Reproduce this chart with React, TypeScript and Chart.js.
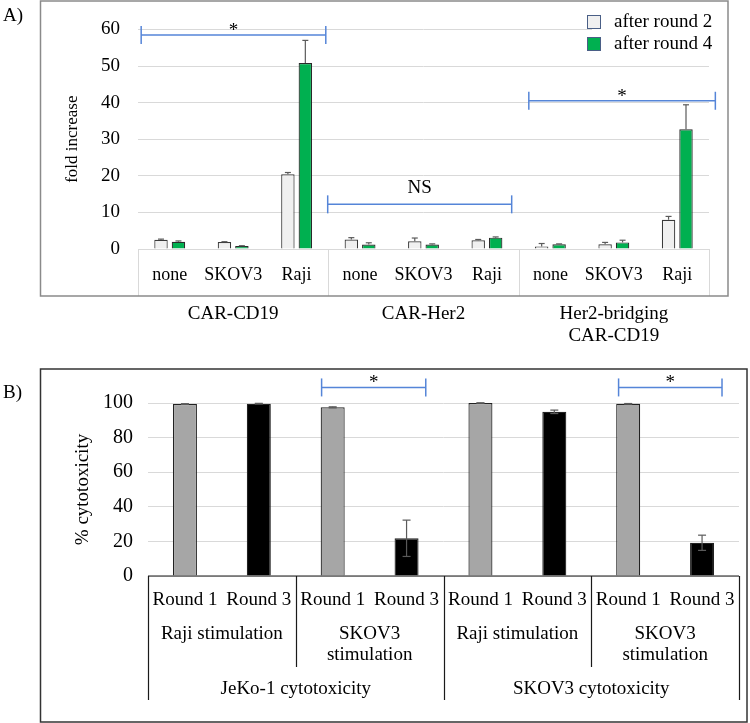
import React, { useEffect, useRef } from "react";
import { Chart, registerables } from "chart.js";
Chart.register(...registerables);

const FONT = "'Liberation Serif', 'Times New Roman', serif";

// ---------- Panel A data ----------
const aGroups = ["CAR-CD19", "CAR-Her2", "Her2-bridging\nCAR-CD19"];
const aTargets = ["none", "SKOV3", "Raji"];
const aSeriesNames = ["after round 2", "after round 4"];
const round2 = [2.5, 1.9, 20.4, 2.6, 2.1, 2.4, 0.7, 1.3, 8.0];
const round2Err = [0.2, 0.1, 0.5, 0.5, 0.9, 0.2, 0.8, 0.5, 0.9];
const round4 = [2.0, 0.8, 50.8, 1.2, 1.2, 3.1, 1.3, 1.8, 32.7];
const round4Err = [0.2, 0.1, 6.2, 0.5, 0.2, 0.2, 0.1, 0.6, 6.7];
const aTicks = [0, 10, 20, 30, 40, 50, 60];
// significance brackets: [fromCategory, toCategory, yValue, label]
const aBrackets: [number, number, number, string][] = [
  [-0.45, 2.46, 58.5, "*"],
  [2.49, 5.39, 12.2, "NS"],
  [5.66, 8.6, 40.5, "*"],
];

// ---------- Panel B data ----------
const bCytotox = ["JeKo-1 cytotoxicity", "SKOV3 cytotoxicity"];
const bStim = ["Raji stimulation", "SKOV3\nstimulation"];
const bRounds = ["Round 1", "Round 3"];
const bValues = [99.4, 99.6, 97.5, 21.8, 100, 94.9, 99.5, 19.2];
const bErr = [0.2, 0.2, 0.3, 10.5, 0.1, 1.0, 0.2, 4.4];
const bTicks = [0, 20, 40, 60, 80, 100];
const bBrackets: [number, number, number, string][] = [
  [1.85, 3.26, 109, "*"],
  [5.87, 7.27, 109, "*"],
];

const aLabels: string[] = [];
aGroups.forEach(() => aTargets.forEach((t) => aLabels.push(t)));
const bLabels: string[] = [];
bCytotox.forEach(() => bStim.forEach(() => bRounds.forEach((r) => bLabels.push(r))));

function txt(ctx: CanvasRenderingContext2D, s: string, x: number, y: number, size: number, align: CanvasTextAlign = "center", baseline: CanvasTextBaseline = "middle", color = "#000") {
  ctx.font = `${size}px ${FONT}`;
  ctx.fillStyle = color;
  ctx.textAlign = align;
  ctx.textBaseline = baseline;
  ctx.fillText(s, x, y);
}

function line(ctx: CanvasRenderingContext2D, x1: number, y1: number, x2: number, y2: number) {
  ctx.beginPath();
  ctx.moveTo(x1, y1);
  ctx.lineTo(x2, y2);
  ctx.stroke();
}

function drawBrackets(ctx: CanvasRenderingContext2D, chart: any, list: [number, number, number, string][]) {
  const xs = chart.scales.x, ys = chart.scales.y;
  const step = xs.getPixelForValue(1) - xs.getPixelForValue(0);
  const x0 = xs.getPixelForValue(0);
  ctx.strokeStyle = "#5585d8";
  ctx.lineWidth = 1.5;
  list.forEach(([a, b, v, lab]) => {
    const xa = x0 + a * step, xb = x0 + b * step, yy = ys.getPixelForValue(v);
    line(ctx, xa, yy, xb, yy);
    line(ctx, xa, yy - 9, xa, yy + 9);
    line(ctx, xb, yy - 9, xb, yy + 9);
    if (lab === "*") txt(ctx, lab, (xa + xb) / 2, yy + 1, 19, "center", "alphabetic");
    else txt(ctx, lab, (xa + xb) / 2, yy - 11, 19, "center", "alphabetic");
  });
}

function drawErrors(ctx: CanvasRenderingContext2D, chart: any, dsIndex: number, errs: number[], both: boolean, cap: number) {
  const ys = chart.scales.y;
  const meta = chart.getDatasetMeta(dsIndex);
  const vals = chart.data.datasets[dsIndex].data as number[];
  ctx.strokeStyle = "#5a5a5a";
  ctx.lineWidth = 1.2;
  meta.data.forEach((bar: any, i: number) => {
    const v = vals[i], e = errs[i];
    const top = ys.getPixelForValue(v + e);
    const bot = both ? ys.getPixelForValue(v - e) : ys.getPixelForValue(v);
    line(ctx, bar.x, top, bar.x, bot);
    line(ctx, bar.x - cap / 2, top, bar.x + cap / 2, top);
    if (both) line(ctx, bar.x - cap / 2, bot, bar.x + cap / 2, bot);
  });
}

const panelAPlugin = {
  id: "panelA",
  afterDraw(chart: any) {
    const { ctx } = chart;
    const xs = chart.scales.x, ys = chart.scales.y;
    const step = xs.getPixelForValue(1) - xs.getPixelForValue(0);
    const edge = (i: number) => xs.getPixelForValue(i) - step / 2;
    const y0 = ys.getPixelForValue(0);
    const boxBottom = 296;
    ctx.save();
    // error bars
    drawErrors(ctx, chart, 0, round2Err, false, 6);
    drawErrors(ctx, chart, 1, round4Err, false, 6);
    // category table
    ctx.strokeStyle = "#d9d9d9";
    ctx.lineWidth = 1;
    for (let g = 0; g <= aGroups.length; g++) {
      const xx = Math.round(edge(g * aTargets.length)) + 0.5;
      line(ctx, xx, y0, xx, boxBottom);
    }
    aLabels.forEach((l, i) => txt(ctx, l, xs.getPixelForValue(i), y0 + 26, 18));
    aGroups.forEach((g, gi) => {
      const cx = (edge(gi * 3) + edge(gi * 3 + 3)) / 2;
      g.split("\n").forEach((ln, li) => txt(ctx, ln, cx, 314 + li * 22, 19));
    });
    // frame
    ctx.strokeStyle = "#8a8a8a";
    ctx.lineWidth = 1.5;
    ctx.strokeRect(40.5, 1, 687.5, boxBottom - 1);
    txt(ctx, "A)", 3, 16, 19, "left");
    // brackets
    drawBrackets(ctx, chart, aBrackets);
    // legend (white box over gridlines)
    ctx.fillStyle = "#fff";
    ctx.fillRect(592, 4, 120, 53);
    chart.data.datasets.forEach((ds: any, i: number) => {
      const ly = 22 + i * 22;
      ctx.fillStyle = ds.backgroundColor;
      ctx.fillRect(587, ly - 7, 14, 14);
      ctx.strokeStyle = "#4a5f86";
      ctx.lineWidth = 1;
      ctx.strokeRect(587.5, ly - 6.5, 13, 13);
      txt(ctx, ds.label, 614, ly, 19, "left");
    });
    ctx.restore();
  },
};

const panelBPlugin = {
  id: "panelB",
  afterDraw(chart: any) {
    const { ctx } = chart;
    const xs = chart.scales.x, ys = chart.scales.y;
    const step = xs.getPixelForValue(1) - xs.getPixelForValue(0);
    const edge = (i: number) => xs.getPixelForValue(i) - step / 2;
    const y0 = ys.getPixelForValue(0);
    ctx.save();
    drawErrors(ctx, chart, 0, bErr, true, 8);
    // table
    ctx.strokeStyle = "#1a1a1a";
    ctx.lineWidth = 1.2;
    line(ctx, edge(0), y0, edge(bLabels.length), y0);
    const nStim = bRounds.length;
    const nCyt = bStim.length * nStim;
    for (let c = 0; c <= bCytotox.length; c++) {
      const xx = Math.round(edge(c * nCyt)) + 0.5;
      line(ctx, xx, y0, xx, 340);
    }
    for (let s = 0; s < bCytotox.length * bStim.length; s++) {
      if (s % bStim.length === 0) continue;
      const xx = Math.round(edge(s * nStim)) + 0.5;
      line(ctx, xx, y0, xx, 307);
    }
    bLabels.forEach((l, i) => txt(ctx, l, xs.getPixelForValue(i), y0 + 24, 19));
    bCytotox.forEach((c, ci) => {
      bStim.forEach((s, si) => {
        const k = ci * bStim.length + si;
        const cx = (edge(k * nStim) + edge(k * nStim + nStim)) / 2;
        s.split("\n").forEach((ln, li) => txt(ctx, ln, cx, y0 + 58 + li * 21, 19));
      });
      const cx = (edge(ci * nCyt) + edge(ci * nCyt + nCyt)) / 2;
      txt(ctx, c, cx, y0 + 113, 19);
    });
    // frame
    ctx.strokeStyle = "#333";
    ctx.lineWidth = 1.5;
    ctx.strokeRect(40.5, 9, 706.5, 353);
    txt(ctx, "B)", 3, 33, 19, "left");
    drawBrackets(ctx, chart, bBrackets);
    ctx.restore();
  },
};

export default function App() {
  const refA = useRef<HTMLCanvasElement>(null);
  const refB = useRef<HTMLCanvasElement>(null);

  useEffect(() => {
    const chartA = new Chart(refA.current!, {
      type: "bar",
      data: {
        labels: aLabels,
        datasets: [
          { label: aSeriesNames[0], data: round2, backgroundColor: "#f0f0f0", borderColor: "#3a3a3a", borderWidth: 1.2, categoryPercentage: 0.55, barPercentage: 0.77 },
          { label: aSeriesNames[1], data: round4, backgroundColor: "#00b050", borderColor: "#2a2a2a", borderWidth: 1.2, categoryPercentage: 0.55, barPercentage: 0.77 },
        ],
      },
      options: {
        responsive: false,
        animation: false,
        layout: { padding: { left: 40, right: 41, top: 12, bottom: 111 } },
        plugins: { legend: { display: false }, tooltip: { enabled: false } },
        scales: {
          x: { display: false },
          y: {
            min: 0,
            max: 60,
            afterFit: (s: any) => { s.width = 98; },
            afterBuildTicks: (s: any) => { s.ticks = aTicks.map((v) => ({ value: v })); },
            ticks: { padding: 18, color: "#000", font: { family: FONT, size: 19 } },
            grid: { color: "#d9d9d9", drawTicks: false, lineWidth: 1 },
            border: { display: false },
            title: { display: true, text: "fold increase", color: "#000", font: { family: FONT, size: 17 }, padding: { top: 22, bottom: 0 } },
          },
        },
      },
      plugins: [panelAPlugin],
    });

    const chartB = new Chart(refB.current!, {
      type: "bar",
      data: {
        labels: bLabels,
        datasets: [
          {
            label: "cytotoxicity",
            data: bValues,
            backgroundColor: bValues.map((_, i) => (i % 2 === 0 ? "#a6a6a6" : "#000000")),
            borderColor: "#222",
            borderWidth: 1.2,
            categoryPercentage: 1,
            barPercentage: 0.325,
          },
        ],
      },
      options: {
        responsive: false,
        animation: false,
        layout: { padding: { left: 40, right: 11, top: 43, bottom: 147 } },
        plugins: { legend: { display: false }, tooltip: { enabled: false } },
        scales: {
          x: { display: false },
          y: {
            min: 0,
            max: 100,
            afterFit: (s: any) => { s.width = 108; },
            afterBuildTicks: (s: any) => { s.ticks = bTicks.map((v) => ({ value: v })); },
            ticks: { padding: 15, color: "#000", font: { family: FONT, size: 20 } },
            grid: { color: "#d9d9d9", drawTicks: false, lineWidth: 1 },
            border: { display: false },
            title: { display: true, text: "% cytotoxicity", color: "#000", font: { family: FONT, size: 19 }, padding: { top: 32, bottom: 0 } },
          },
        },
      },
      plugins: [panelBPlugin],
    });

    return () => {
      chartA.destroy();
      chartB.destroy();
    };
  }, []);

  return (
    <div style={{ position: "absolute", left: 0, top: 0, width: 750, height: 723, background: "#fff" }}>
      <canvas ref={refA} width={750} height={360} style={{ position: "absolute", left: 0, top: 0, display: "block" }} />
      <canvas ref={refB} width={750} height={363} style={{ position: "absolute", left: 0, top: 360, display: "block" }} />
    </div>
  );
}
